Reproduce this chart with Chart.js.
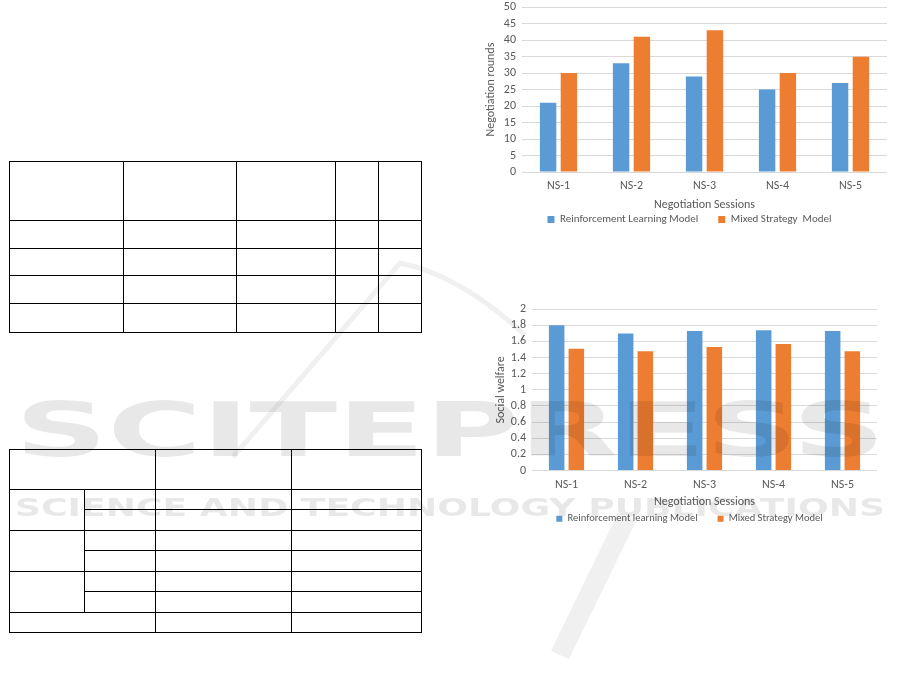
<!DOCTYPE html>
<html>
<head>
<meta charset="utf-8">
<script src="https://cdn.jsdelivr.net/npm/chart.js@4.4.0/dist/chart.umd.min.js"></script>
<style>
  body { margin: 0; width: 901px; height: 691px; background: #fff; position: relative; overflow: hidden; font-family: Carlito, "Open Sans", sans-serif; }
  .box { position: absolute; }
  table { position: absolute; border-collapse: collapse; table-layout: fixed; }
  td { border: 1.4px solid #000; padding: 0; }
  #mark { position: absolute; left: 0; top: 0; pointer-events: none; }
</style>
</head>
<body>

<table style="left:9px; top:161px; width:412px;">
  <colgroup><col style="width:114px"><col style="width:113px"><col style="width:99px"><col style="width:43px"><col style="width:43px"></colgroup>
  <tr style="height:59px"><td></td><td></td><td></td><td></td><td></td></tr>
  <tr style="height:28px"><td></td><td></td><td></td><td></td><td></td></tr>
  <tr style="height:27px"><td></td><td></td><td></td><td></td><td></td></tr>
  <tr style="height:28px"><td></td><td></td><td></td><td></td><td></td></tr>
  <tr style="height:29px"><td></td><td></td><td></td><td></td><td></td></tr>
</table>

<table style="left:9px; top:449px; width:412px;">
  <colgroup><col style="width:75px"><col style="width:71px"><col style="width:136px"><col style="width:130px"></colgroup>
  <tr style="height:40px"><td colspan="2"></td><td></td><td></td></tr>
  <tr style="height:20px"><td rowspan="2"></td><td></td><td></td><td></td></tr>
  <tr style="height:21px"><td></td><td></td><td></td></tr>
  <tr style="height:20px"><td rowspan="2"></td><td></td><td></td><td></td></tr>
  <tr style="height:21px"><td></td><td></td><td></td></tr>
  <tr style="height:20px"><td rowspan="2"></td><td></td><td></td><td></td></tr>
  <tr style="height:21px"><td></td><td></td><td></td></tr>
  <tr style="height:20px"><td colspan="2"></td><td></td><td></td></tr>
</table>

<div class="box" style="left:480px; top:-6px; width:415px; height:241px;"><canvas id="rounds"></canvas></div>
<div class="box" style="left:480px; top:296px; width:405px; height:238px;"><canvas id="welfare"></canvas></div>

<svg id="mark" width="901" height="691">
  <g fill="none" stroke="#000" stroke-opacity="0.06">
    <path d="M233 457 L400 263 Q460 275 525 335" stroke-width="5"/>
    <path d="M627 517 L560 655" stroke-width="20"/>
  </g>
  <g fill="#000" fill-opacity="0.09" font-family="DejaVu Sans" font-weight="bold">
    <text x="15" y="456" font-size="74" textLength="870" lengthAdjust="spacingAndGlyphs">SCITEPRESS</text>
    <text x="15" y="516" font-size="25" textLength="870" lengthAdjust="spacingAndGlyphs">SCIENCE AND TECHNOLOGY PUBLICATIONS</text>
  </g>
</svg>

<script>
const sessions = ["NS-1", "NS-2", "NS-3", "NS-4", "NS-5"]

// negotiation rounds per session
const roundsRL = [21, 33, 29, 25, 27]
const roundsMixed = [30, 41, 43, 30, 35]
const roundsTicks = [0, 5, 10, 15, 20, 25, 30, 35, 40, 45, 50]

// social welfare per session
const welfareRL = [1.80, 1.70, 1.73, 1.74, 1.73]
const welfareMixed = [1.51, 1.48, 1.53, 1.57, 1.48]
const welfareTicks = [0, 0.2, 0.4, 0.6, 0.8, 1, 1.2, 1.4, 1.6, 1.8, 2]

const blue = "#5B9BD5"
const orange = "#ED7D31"
const grey = "#595959"
const family = "Carlito, 'Open Sans', sans-serif"
const font = { family: family, size: 12 }

// nudge the legend sideways, Chart.js centres it with the trailing padding included
const legendShift = {
    id: "legendShift",
    afterLayout: (chart, args, opts) => {
        chart.legend.left += opts.dx
        chart.legend.right += opts.dx
    },
}

function barChart(id, o) {
    return new Chart(document.getElementById(id), {
        type: "bar",
        data: {
            labels: sessions,
            datasets: [
                { label: o.rlLabel, data: o.rl, backgroundColor: blue, categoryPercentage: 0.57, barPercentage: 0.79 },
                { label: o.mixedLabel, data: o.mixed, backgroundColor: orange, categoryPercentage: 0.57, barPercentage: 0.79 },
            ],
        },
        options: {
            animation: false,
            responsive: true,
            maintainAspectRatio: false,
            layout: { padding: { left: o.left, right: 8, top: 0, bottom: 0 } },
            plugins: {
                tooltip: { enabled: false },
                legendShift: { dx: o.legendDx },
                legend: {
                    position: "bottom",
                    labels: { boxWidth: o.box, boxHeight: o.box, padding: 20, color: grey, font: { family: family, size: o.legendSize } },
                },
            },
            scales: {
                x: {
                    grid: { display: false, drawTicks: false },
                    border: { display: false },
                    ticks: { color: grey, font: font, padding: 7 },
                    title: { display: true, text: "Negotiation Sessions", color: grey, font: font, padding: { top: 0, bottom: o.titleBottom } },
                    afterFit: s => { s.height = o.xHeight },
                },
                y: {
                    min: 0,
                    max: o.ticks[o.ticks.length - 1],
                    ticks: { color: grey, font: font, padding: 6, autoSkip: false, callback: v => String(+v.toFixed(1)) },
                    afterBuildTicks: s => { s.ticks = o.ticks.map(v => ({ value: v })) },
                    grid: { color: "#d9d9d9", drawTicks: false },
                    border: { display: false },
                    title: { display: true, text: o.yTitle, color: grey, font: font },
                    afterFit: s => { s.width = o.yWidth },
                },
            },
        },
        plugins: [legendShift],
    })
}

barChart("rounds", {
    rlLabel: "Reinforcement Learning Model", rl: roundsRL,
    mixedLabel: "Mixed Strategy  Model", mixed: roundsMixed,
    yTitle: "Negotiation rounds", ticks: roundsTicks,
    left: 0, yWidth: 42, xHeight: 22, titleBottom: -18, box: 7, legendSize: 11, legendDx: 6,
})
barChart("welfare", {
    rlLabel: "Reinforcement learning Model", rl: welfareRL,
    mixedLabel: "Mixed Strategy Model", mixed: welfareMixed,
    yTitle: "Social welfare", ticks: welfareTicks,
    left: 10, yWidth: 42, xHeight: 23, titleBottom: -16, box: 6, legendSize: 10.5, legendDx: 6,
})
</script>
</body>
</html>
